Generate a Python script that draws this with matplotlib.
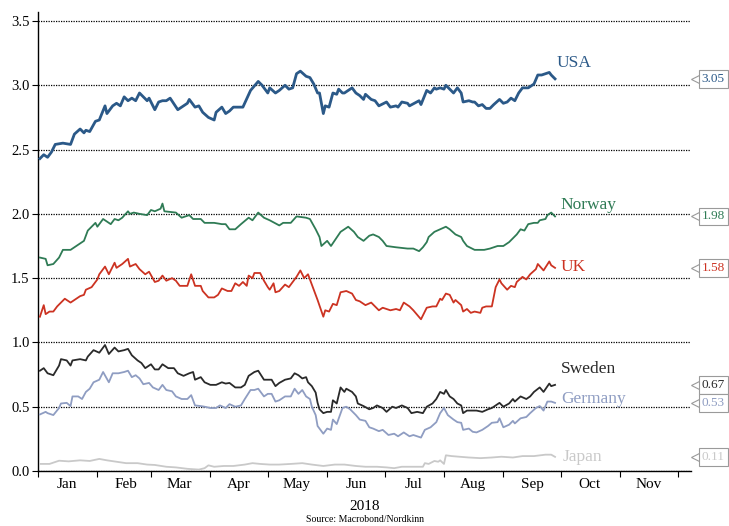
import matplotlib
matplotlib.use("Agg")
import matplotlib.pyplot as plt
import matplotlib.dates as mdates
import pandas as pd

plt.rcParams['font.family'] = ['Liberation Serif', 'DejaVu Serif']

START = pd.Timestamp("2018-01-01")

# 10-year government bond yields, 2018 (day offsets from 1 Jan, yield in %)
usa_days = [1, 3, 5, 7, 9, 13, 17, 19, 22, 24, 25, 27, 30, 32, 35, 36, 39, 41, 43, 45, 47, 49, 51, 53, 55, 57, 58, 61, 63, 65, 67, 69, 73, 76, 78, 79, 82, 84, 86, 89, 92, 93, 96, 98, 100, 102, 105, 107, 111, 115, 117, 120, 121, 124, 126, 129, 131, 133, 135, 137, 140, 142, 144, 146, 147, 149, 150, 152, 154, 156, 157, 159, 160, 162, 164, 166, 168, 170, 171, 174, 176, 178, 182, 184, 187, 188, 190, 193, 194, 199, 200, 203, 205, 207, 208, 210, 212, 213, 215, 217, 219, 221, 222, 225, 227, 228, 230, 232, 234, 236, 238, 241, 243, 245, 247, 249, 251, 253, 256, 259, 261, 263, 265, 267, 268, 270]
usa_vals = [2.43, 2.46, 2.44, 2.48, 2.54, 2.55, 2.54, 2.62, 2.66, 2.63, 2.65, 2.64, 2.72, 2.73, 2.84, 2.78, 2.84, 2.86, 2.84, 2.91, 2.88, 2.90, 2.88, 2.94, 2.91, 2.88, 2.90, 2.81, 2.87, 2.88, 2.88, 2.90, 2.81, 2.84, 2.86, 2.89, 2.83, 2.84, 2.79, 2.75, 2.73, 2.79, 2.83, 2.78, 2.80, 2.83, 2.83, 2.83, 2.96, 3.03, 3.00, 2.94, 2.98, 2.94, 2.96, 3.00, 2.97, 2.98, 3.09, 3.11, 3.07, 3.06, 3.01, 2.94, 2.94, 2.78, 2.84, 2.83, 2.94, 2.93, 2.97, 2.94, 2.94, 2.96, 2.98, 2.94, 2.92, 2.89, 2.93, 2.89, 2.88, 2.84, 2.87, 2.83, 2.84, 2.83, 2.87, 2.86, 2.84, 2.88, 2.85, 2.96, 2.94, 2.98, 2.97, 2.98, 2.97, 3.00, 2.97, 2.94, 2.98, 2.94, 2.87, 2.88, 2.87, 2.87, 2.84, 2.85, 2.82, 2.82, 2.85, 2.89, 2.86, 2.87, 2.90, 2.88, 2.94, 2.98, 2.98, 3.01, 3.08, 3.08, 3.09, 3.10, 3.08, 3.05]

norway_days = [1, 4, 5, 8, 11, 13, 17, 20, 24, 26, 28, 30, 31, 34, 37, 38, 40, 42, 44, 47, 48, 50, 53, 57, 59, 61, 64, 65, 66, 72, 75, 79, 81, 85, 87, 92, 96, 98, 100, 103, 106, 110, 112, 115, 118, 121, 126, 128, 132, 135, 140, 142, 145, 147, 148, 151, 153, 158, 160, 162, 165, 167, 170, 173, 175, 178, 180, 182, 187, 193, 196, 199, 201, 203, 204, 207, 210, 213, 215, 218, 221, 222, 224, 228, 233, 236, 240, 243, 246, 248, 250, 252, 254, 256, 259, 261, 262, 265, 266, 268, 270]
norway_vals = [1.66, 1.65, 1.60, 1.61, 1.66, 1.72, 1.72, 1.75, 1.79, 1.87, 1.90, 1.93, 1.90, 1.96, 1.93, 1.92, 1.96, 1.95, 1.97, 2.02, 2.00, 2.01, 2.00, 1.99, 2.03, 2.02, 2.04, 2.08, 2.02, 2.01, 1.97, 1.99, 1.96, 1.96, 1.93, 1.93, 1.92, 1.92, 1.88, 1.88, 1.92, 1.97, 1.95, 2.01, 1.97, 1.95, 1.91, 1.93, 1.93, 1.98, 1.97, 1.96, 1.88, 1.82, 1.75, 1.79, 1.75, 1.86, 1.88, 1.90, 1.86, 1.82, 1.79, 1.83, 1.84, 1.82, 1.79, 1.75, 1.74, 1.73, 1.73, 1.71, 1.74, 1.78, 1.82, 1.86, 1.88, 1.90, 1.88, 1.84, 1.82, 1.79, 1.75, 1.72, 1.72, 1.73, 1.75, 1.75, 1.78, 1.81, 1.84, 1.88, 1.87, 1.92, 1.93, 1.93, 1.95, 1.96, 1.99, 2.01, 1.98]

uk_days = [1, 3, 4, 6, 8, 10, 12, 14, 17, 19, 22, 24, 25, 28, 31, 32, 35, 37, 40, 41, 44, 47, 48, 51, 53, 56, 58, 61, 63, 65, 67, 70, 72, 74, 78, 80, 82, 85, 86, 89, 92, 94, 96, 99, 101, 103, 105, 107, 109, 110, 112, 113, 116, 118, 120, 121, 123, 124, 126, 129, 131, 133, 135, 137, 139, 141, 142, 144, 146, 149, 150, 152, 154, 156, 158, 161, 164, 166, 168, 171, 174, 176, 178, 180, 184, 187, 189, 191, 194, 196, 200, 203, 206, 208, 210, 211, 213, 215, 217, 218, 221, 222, 224, 226, 228, 231, 232, 234, 237, 239, 241, 242, 245, 247, 249, 250, 253, 255, 257, 260, 261, 264, 267, 268, 270]
uk_vals = [1.20, 1.29, 1.22, 1.24, 1.24, 1.28, 1.31, 1.34, 1.31, 1.33, 1.36, 1.37, 1.41, 1.43, 1.49, 1.53, 1.59, 1.53, 1.62, 1.58, 1.61, 1.65, 1.59, 1.61, 1.57, 1.53, 1.55, 1.47, 1.48, 1.52, 1.48, 1.50, 1.48, 1.44, 1.44, 1.53, 1.44, 1.44, 1.40, 1.35, 1.35, 1.37, 1.42, 1.40, 1.40, 1.46, 1.44, 1.47, 1.44, 1.52, 1.50, 1.54, 1.54, 1.48, 1.43, 1.41, 1.46, 1.39, 1.40, 1.45, 1.43, 1.47, 1.51, 1.56, 1.50, 1.53, 1.49, 1.41, 1.33, 1.20, 1.25, 1.24, 1.30, 1.29, 1.39, 1.40, 1.38, 1.33, 1.32, 1.29, 1.31, 1.28, 1.25, 1.27, 1.25, 1.26, 1.25, 1.31, 1.28, 1.25, 1.18, 1.27, 1.28, 1.28, 1.34, 1.33, 1.38, 1.37, 1.31, 1.33, 1.29, 1.24, 1.26, 1.23, 1.24, 1.23, 1.27, 1.28, 1.28, 1.43, 1.49, 1.46, 1.41, 1.44, 1.43, 1.47, 1.51, 1.49, 1.53, 1.57, 1.61, 1.56, 1.63, 1.60, 1.58]

sweden_days = [1, 3, 5, 8, 11, 12, 15, 17, 18, 22, 25, 26, 29, 32, 35, 37, 40, 42, 45, 47, 49, 52, 54, 56, 59, 61, 63, 65, 68, 71, 73, 76, 79, 81, 82, 85, 87, 90, 93, 96, 98, 100, 103, 106, 108, 110, 113, 115, 118, 120, 122, 124, 126, 129, 132, 134, 136, 138, 140, 141, 143, 145, 146, 147, 149, 151, 153, 154, 156, 158, 160, 161, 164, 166, 167, 170, 173, 175, 177, 180, 182, 185, 187, 190, 193, 195, 198, 201, 203, 206, 208, 210, 212, 213, 215, 217, 219, 221, 222, 224, 227, 229, 232, 235, 237, 241, 243, 246, 248, 249, 252, 255, 257, 259, 262, 264, 267, 268, 270]
sweden_vals = [0.78, 0.80, 0.76, 0.745, 0.82, 0.87, 0.86, 0.82, 0.86, 0.87, 0.86, 0.89, 0.94, 0.92, 0.98, 0.91, 0.96, 0.93, 0.94, 0.95, 0.90, 0.86, 0.84, 0.80, 0.83, 0.79, 0.79, 0.83, 0.80, 0.80, 0.76, 0.74, 0.76, 0.77, 0.71, 0.73, 0.69, 0.67, 0.67, 0.69, 0.68, 0.685, 0.65, 0.65, 0.67, 0.74, 0.77, 0.78, 0.71, 0.71, 0.71, 0.66, 0.685, 0.71, 0.72, 0.76, 0.745, 0.72, 0.73, 0.69, 0.66, 0.61, 0.53, 0.48, 0.45, 0.46, 0.46, 0.55, 0.525, 0.65, 0.615, 0.64, 0.615, 0.58, 0.525, 0.505, 0.48, 0.49, 0.51, 0.49, 0.46, 0.50, 0.49, 0.51, 0.49, 0.45, 0.46, 0.45, 0.50, 0.525, 0.56, 0.615, 0.60, 0.63, 0.58, 0.56, 0.525, 0.51, 0.45, 0.47, 0.47, 0.47, 0.46, 0.48, 0.49, 0.53, 0.50, 0.525, 0.56, 0.54, 0.58, 0.56, 0.58, 0.615, 0.65, 0.615, 0.68, 0.66, 0.67]

germany_days = [1, 4, 5, 8, 11, 12, 15, 17, 18, 21, 23, 25, 27, 29, 32, 34, 37, 39, 42, 45, 47, 49, 51, 53, 55, 58, 60, 63, 65, 67, 70, 72, 75, 78, 80, 82, 85, 87, 90, 93, 95, 98, 100, 103, 106, 108, 111, 113, 115, 118, 120, 122, 124, 126, 129, 132, 134, 136, 138, 140, 142, 143, 145, 146, 149, 151, 153, 154, 156, 159, 161, 163, 166, 168, 171, 173, 175, 178, 180, 183, 186, 188, 191, 194, 196, 200, 202, 205, 208, 210, 212, 214, 217, 219, 221, 222, 225, 227, 229, 232, 235, 237, 240, 241, 243, 246, 248, 249, 252, 255, 257, 260, 262, 264, 266, 268, 270]
germany_vals = [0.44, 0.46, 0.45, 0.435, 0.49, 0.525, 0.53, 0.505, 0.58, 0.58, 0.56, 0.615, 0.64, 0.69, 0.71, 0.77, 0.69, 0.76, 0.76, 0.77, 0.78, 0.73, 0.745, 0.72, 0.675, 0.685, 0.65, 0.63, 0.67, 0.63, 0.62, 0.58, 0.56, 0.56, 0.59, 0.51, 0.505, 0.50, 0.49, 0.49, 0.51, 0.49, 0.52, 0.50, 0.51, 0.56, 0.63, 0.63, 0.64, 0.58, 0.60, 0.60, 0.54, 0.55, 0.58, 0.58, 0.64, 0.60, 0.63, 0.58, 0.56, 0.50, 0.435, 0.35, 0.29, 0.33, 0.32, 0.40, 0.365, 0.49, 0.50, 0.48, 0.435, 0.40, 0.39, 0.34, 0.33, 0.31, 0.32, 0.28, 0.29, 0.27, 0.30, 0.27, 0.28, 0.26, 0.32, 0.34, 0.38, 0.45, 0.49, 0.435, 0.40, 0.38, 0.375, 0.32, 0.33, 0.305, 0.30, 0.32, 0.35, 0.375, 0.38, 0.41, 0.34, 0.36, 0.39, 0.37, 0.41, 0.42, 0.45, 0.49, 0.505, 0.47, 0.54, 0.54, 0.53]

japan_days = [1, 6, 11, 16, 22, 27, 32, 36, 41, 46, 52, 57, 61, 67, 72, 78, 84, 87, 89, 92, 97, 102, 108, 112, 116, 121, 126, 132, 138, 143, 149, 155, 160, 166, 171, 177, 182, 186, 190, 196, 201, 202, 204, 207, 209, 210, 212, 213, 216, 220, 225, 231, 237, 242, 248, 253, 259, 265, 268, 270]
japan_vals = [0.055, 0.055, 0.080, 0.075, 0.083, 0.078, 0.094, 0.083, 0.072, 0.061, 0.061, 0.050, 0.047, 0.033, 0.028, 0.017, 0.011, 0.022, 0.044, 0.033, 0.039, 0.039, 0.050, 0.061, 0.055, 0.050, 0.050, 0.055, 0.061, 0.050, 0.039, 0.050, 0.050, 0.039, 0.033, 0.033, 0.028, 0.022, 0.033, 0.033, 0.033, 0.061, 0.055, 0.078, 0.072, 0.083, 0.055, 0.122, 0.116, 0.111, 0.105, 0.100, 0.105, 0.111, 0.105, 0.116, 0.116, 0.127, 0.127, 0.11]

series_names = ["USA", "Norway", "UK", "Sweden", "Germany", "Japan"]
series_days = [usa_days, norway_days, uk_days, sweden_days, germany_days, japan_days]
series_vals = [usa_vals, norway_vals, uk_vals, sweden_vals, germany_vals, japan_vals]
last_values = [3.05, 1.98, 1.58, 0.67, 0.53, 0.11]
# where each name label sits (day offset, yield level)
name_pos = [(271, 3.17), (273, 2.07), (273, 1.59), (273, 0.79), (273, 0.56), (274, 0.11)]

colors = ["#2b5988", "#2f7b55", "#cc3322", "#2a2a2a", "#8f9dc2", "#c9c9c9"]
widths = [2.0, 1.3, 1.3, 1.3, 1.3, 1.3]

fig = plt.figure(figsize=(7.29, 5.26), dpi=100)
ax = fig.add_axes([38 / 729, 55 / 526, 653 / 729, 459 / 526])

for name, d, v, c, w in zip(series_names, series_days, series_vals, colors, widths):
    dates = START + pd.to_timedelta(d, unit="D")
    ax.plot(dates, v, color=c, lw=w, solid_joinstyle="round", zorder=3)

# series names next to the line ends
for name, (d, v), c in zip(series_names, name_pos, colors):
    ax.text(START + pd.Timedelta(days=d), v, name, color=c, fontsize=12.5,
            ha="left", va="center", zorder=4)

# latest values in small boxes with a pointer, right of the plot
for v, c in zip(last_values, colors):
    ax.plot([1.0125], [v], marker="<", ms=12, mfc="white", mec="#9a9a9a", mew=0.8,
            transform=ax.get_yaxis_transform(), clip_on=False, zorder=5)
    ax.text(1.0165, v, f"{v:.2f}", transform=ax.get_yaxis_transform(),
            ha="left", va="center", fontsize=9.5, color=c, clip_on=False, zorder=6,
            bbox=dict(boxstyle="square,pad=0.22", fc="white", ec="#9a9a9a", lw=0.8))

ax.set_ylim(0, 3.57)
ax.set_xlim(START, pd.Timestamp("2018-12-08"))

yt = [0.0, 0.5, 1.0, 1.5, 2.0, 2.5, 3.0, 3.5]
ax.set_yticks(yt)
ax.set_yticklabels([f"{t:.1f}" for t in yt], fontsize=10.5)
for t in yt:
    ax.axhline(t, color="black", lw=0.9, ls=(0, (1, 1)), zorder=1)

ax.xaxis.set_major_locator(mdates.MonthLocator())
ax.xaxis.set_major_formatter(plt.NullFormatter())
ax.xaxis.set_minor_locator(mdates.MonthLocator(bymonthday=16))
ax.xaxis.set_minor_formatter(mdates.DateFormatter("%b"))
ax.tick_params(axis="x", which="major", length=4, direction="out", width=0.8)
ax.tick_params(axis="x", which="minor", length=0, labelsize=11, pad=5)
ax.tick_params(axis="y", length=4, width=0.8, labelsize=10.5, pad=2)
for lbl in ax.get_xticklabels(minor=True):
    if lbl.get_text() == "Dec":
        lbl.set_visible(False)

ax.spines["top"].set_visible(False)
ax.spines["right"].set_visible(False)
ax.spines["left"].set_linewidth(1.0)
ax.spines["bottom"].set_linewidth(1.0)

fig.text(365 / 729, 1 - 506 / 526, "2018", ha="center", va="center", fontsize=11)
fig.text(365 / 729, 1 - 519 / 526, "Source: Macrobond/Nordkinn", ha="center",
         va="center", fontsize=7)

fig.savefig("out.png", dpi=100)
